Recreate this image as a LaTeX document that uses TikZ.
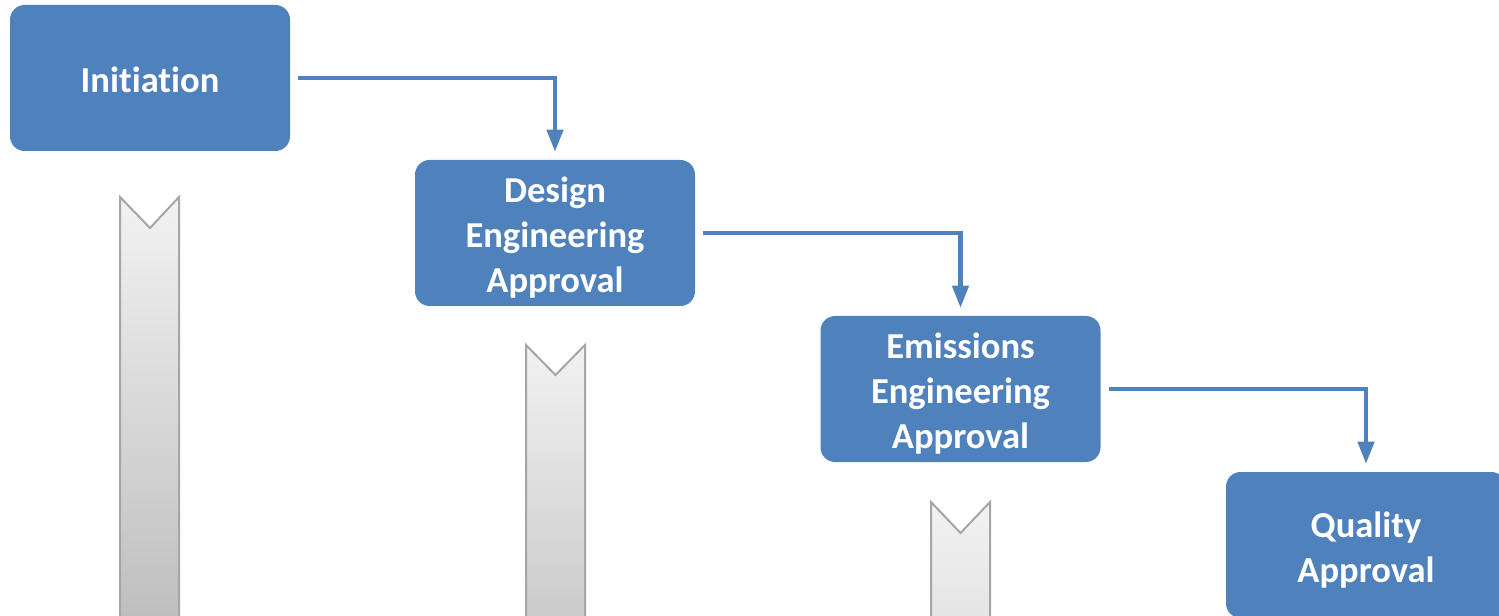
\documentclass[tikz,border=0pt]{standalone}
\usepackage{fontspec}
\setmainfont{Carlito}[Ligatures=NoCommon]
\usetikzlibrary{arrows.meta}
\definecolor{boxblue}{HTML}{4F81BD}
\definecolor{chevline}{HTML}{A6A6A6}
\definecolor{chevtop}{HTML}{F2F2F2}
\definecolor{chevbotA}{HTML}{BEBEBE}
\definecolor{chevbotB}{HTML}{CACACA}
\definecolor{chevbotC}{HTML}{E4E4E4}
\tikzset{
  stagebox/.style={rectangle, rounded corners=11pt, fill=boxblue, draw=none,
    minimum width=210pt, minimum height=109.5pt, inner sep=0pt},
  stagetext/.style={align=center, text=white, inner sep=0pt, yshift=-3.5pt,
    font=\fontsize{27.4}{33.75}\selectfont\bfseries},
  flowarrow/.style={draw=boxblue, line width=3.2pt,
    -{Triangle[length=16.5pt,width=12pt]}},
  chevron/.style={draw=chevline, line width=1.5pt}
}
\begin{document}
\begin{tikzpicture}[x=0.75pt,y=-0.75pt]
\useasboundingbox (0,0) rectangle (1499,616);
\clip (0,0) rectangle (1499,616);
% chevrons
\filldraw[chevron, top color=chevtop, bottom color=chevbotA]
  (120,197) -- (150,228) -- (179,197) -- (179,625) -- (120,625) -- cycle;
\filldraw[chevron, top color=chevtop, bottom color=chevbotB]
  (526,345) -- (555.5,375) -- (585,345) -- (585,625) -- (526,625) -- cycle;
\filldraw[chevron, top color=chevtop, bottom color=chevbotC]
  (931,502) -- (960.5,533) -- (990,502) -- (990,625) -- (931,625) -- cycle;
% boxes
\node[stagebox, label={[stagetext,yshift=2pt]center:Initiation}] (init) at (150,78) {};
\node[stagebox, label={[stagetext]center:{Design\\Engineering\\Approval}}] (design) at (555,233) {};
\node[stagebox, label={[stagetext]center:{Emissions\\Engineering\\Approval}}] (emis) at (960.5,389) {};
\node[stagebox, label={[stagetext]center:{Quality\\Approval}}] (qual) at (1366,545) {};
% arrows
\draw[flowarrow] ([xshift=6pt]init.east) -| ([yshift=6pt]design.north);
\draw[flowarrow] ([xshift=6pt]design.east) -| ([yshift=6pt]emis.north);
\draw[flowarrow] ([xshift=6pt]emis.east) -| ([yshift=6pt]qual.north);
\end{tikzpicture}
\end{document}
